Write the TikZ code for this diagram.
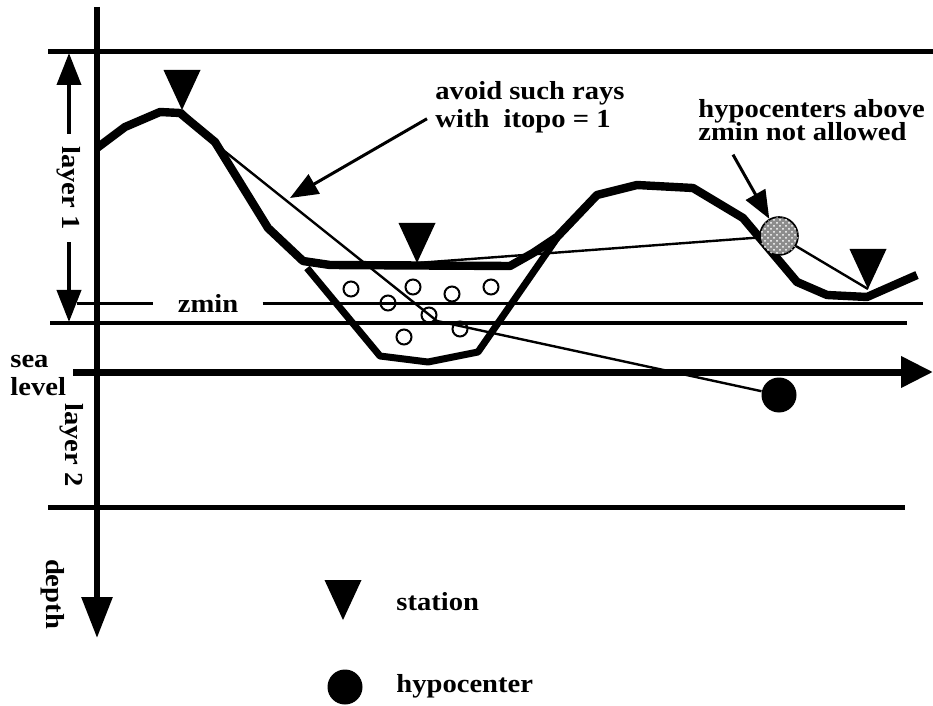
\documentclass[tikz,border=0pt]{standalone}
\usepackage{fontspec}
\setmainfont{Liberation Serif}[FakeStretch=1.1]
\usetikzlibrary{arrows.meta,patterns}
\tikzset{
    lbl/.style={font=\bfseries\fontsize{13}{14}\selectfont, inner sep=0pt},
    topo/.style={line width=4.2pt, line join=round},
    ray/.style={line width=1.2pt},
    hypo/.style={circle, fill=black, inner sep=0pt, minimum size=17.5pt},
    badhypo/.style={circle, draw, line width=0.8pt, fill=black!45, inner sep=0pt, minimum size=19pt,
        postaction={pattern=crosshatch dots, pattern color=white}},
    pointer/.style={line width=1.5pt, -{Triangle[length=14pt,width=11pt]}},
    station/.pic={\fill (0,0) -- (-18.5,-40) -- (18.5,-40) -- cycle;},
}
\begin{document}
\begin{tikzpicture}[x=0.5pt, y=-0.5pt]
        \useasboundingbox (0,0) rectangle (933,706);
        \draw[line width=3pt, -{Triangle[length=20.5pt,width=15pt]}] (97,7) -- (97,638);
        \draw[line width=2.5pt] (48,52) -- (933,52);
        \draw[line width=2pt] (50,323) -- (907,323);
        \draw[line width=2.5pt] (48,507) -- (905,507);
        \draw[line width=3.5pt, -{Triangle[length=16pt,width=15pt]}] (73,372) -- (933,372);
        
        \node[lbl, inner xsep=12pt](zmin)at(208,303) {zmin};
        \draw[line width=1.5pt] (77,303) -- (zmin.west);
        \draw[line width=1.5pt] (zmin.east) -- (923,303);
        
        \node[lbl, rotate=-90, inner xsep=6pt](lay1)at(69,188) {layer 1};
        \draw[line width=2pt, -{Triangle[length=16pt,width=12pt]}] (lay1.west) -- (69,53);
        \draw[line width=2pt, -{Triangle[length=16pt,width=12pt]}] (lay1.east) -- (69,322);
        \node[lbl, rotate=-90](lay2)at(72,445) {layer 2};
        \node[lbl, rotate=-90](dep)at(53,594) {depth};
        \node[lbl, align=left, anchor=base west](sea)at(10,395) {sea\\level};
        
        % topography and sediment basin
        \draw[topo] (97,148) -- (125,127) -- (160,112) -- (180,113) -- (215,142) -- (268,228) -- (303,261) -- (330,265) -- (510,266) -- (533,253) -- (557,237) -- (597,195) -- (637,185) -- (693,188) -- (743,218) -- (770,250) -- (797,282) -- (827,295) -- (867,297) -- (917,275);
        \draw[line width=3.5pt, line join=round] (307,268) -- (380,356) -- (428,362) -- (478,352) -- (557,238);
        \foreach \p in {(351,289),(413,287),(452,294),(491,287),(388,303),(429,315),(460,329),(404,337)}
            \draw[line width=1pt] \p circle (7.5);
        
        \coordinate (st1) at (182,110);
        \coordinate (st2) at (417,263);
        \coordinate (st3) at (868,289);
        \node[hypo](hyp)at(779,395) {};
        \node[badhypo](hyp2)at(779,236) {};
        
        \draw[ray] (st1) -- (213,142) -- (437,321) -- (hyp);
        \draw[ray] (st2) -- (hyp2);
        \draw[ray] (hyp2) -- (st3);
        \pic at (st1) {station};
        \pic at (st2) {station};
        \pic at (st3) {station};
        
        \node[lbl, align=left, anchor=base west](avoid)at(435,128) {avoid such rays\\with\ \ itopo = 1};
        \draw[pointer] ([shift={(-8,11)}]avoid.west) -- (290,198);
        \node[lbl, align=left, anchor=base west](above)at(698,141) {hypocenters above\\[-2.2pt]zmin not allowed};
        \draw[pointer] ([shift={(35,13)}]above.south west) -- (hyp2);
        
        \pic at (343,620) {station};
        \node[lbl, anchor=base west](stlab)at(396,610) {station};
        \node[hypo](leghyp)at(345,687) {};
        \node[lbl, anchor=base west](hyplab)at(396,692) {hypocenter};
    \end{tikzpicture}
\end{document}
